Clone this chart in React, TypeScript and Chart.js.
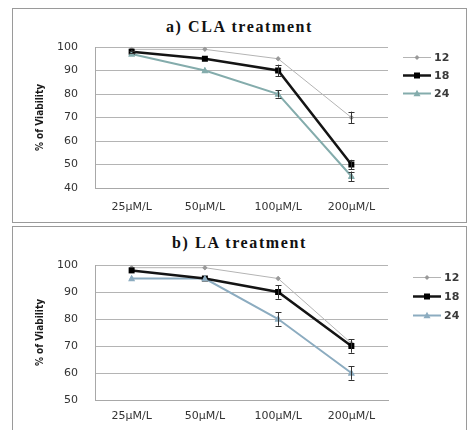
import React, { useEffect, useRef } from "react";
import { Chart, registerables } from "chart.js";

Chart.register(...registerables);

// ---------- data ----------
const categories = ["25µM/L", "50µM/L", "100µM/L", "200µM/L"];
const seriesNames = ["12", "18", "24"];

const claTitle = "a) CLA treatment";
const cla12 = [99, 99, 95, 70];
const cla18 = [98, 95, 90, 50];
const cla24 = [97, 90, 80, 45];
const claErr12 = [0, 0, 0, 2.5];
const claErr18 = [0.5, 0, 2.5, 2];
const claErr24 = [0, 0, 1.5, 2];
const claYMin = 40;
const claYMax = 100;

const laTitle = "b) LA treatment";
const la12 = [99, 99, 95, 71];
const la18 = [98, 95, 90, 70];
const la24 = [95, 95, 80, 60];
const laErr12 = [0, 0, 0, 0];
const laErr18 = [0, 0, 2.5, 2.5];
const laErr24 = [0, 0, 2.5, 2.5];
const laYMin = 50;
const laYMax = 100;

const yStep = 10;
const yTitle = "% of Viability";

// ---------- styles ----------
const c12 = "#b4b4b4";
const c18 = "#141414";
const c24top = "#84acac";
const c24bot = "#8cacc0";

function drawMarker(ctx: CanvasRenderingContext2D, style: string, x: number, y: number, r: number, color: string) {
  ctx.save();
  ctx.fillStyle = color;
  ctx.beginPath();
  if (style === "rect") {
    ctx.rect(x - r, y - r, 2 * r, 2 * r);
  } else if (style === "triangle") {
    ctx.moveTo(x, y - r * 1.1);
    ctx.lineTo(x + r, y + r * 0.8);
    ctx.lineTo(x - r, y + r * 0.8);
    ctx.closePath();
  } else {
    ctx.moveTo(x, y - r);
    ctx.lineTo(x + r, y);
    ctx.lineTo(x, y + r);
    ctx.lineTo(x - r, y);
    ctx.closePath();
  }
  ctx.fill();
  ctx.restore();
}

const errorBarPlugin = {
  id: "errorBars",
  afterDatasetsDraw(chart: any) {
    const ctx = chart.ctx;
    const yScale = chart.scales.y;
    chart.data.datasets.forEach((ds: any, i: number) => {
      const meta = chart.getDatasetMeta(i);
      (ds.errors || []).forEach((e: number, j: number) => {
        if (!e) return;
        const pt = meta.data[j];
        const v = ds.data[j];
        const yt = yScale.getPixelForValue(v + e);
        const yb = yScale.getPixelForValue(v - e);
        const x = Math.round(pt.x) + 0.5;
        ctx.save();
        ctx.strokeStyle = "#333333";
        ctx.lineWidth = 1;
        ctx.beginPath();
        ctx.moveTo(x, yt);
        ctx.lineTo(x, yb);
        ctx.moveTo(x - 3, Math.round(yt) + 0.5);
        ctx.lineTo(x + 3, Math.round(yt) + 0.5);
        ctx.moveTo(x - 3, Math.round(yb) + 0.5);
        ctx.lineTo(x + 3, Math.round(yb) + 0.5);
        ctx.stroke();
        ctx.restore();
      });
    });
  },
};

const lineLegendPlugin = {
  id: "lineLegend",
  afterDraw(chart: any, _args: any, opts: any) {
    const ctx = chart.ctx;
    const area = chart.chartArea;
    chart.data.datasets.forEach((ds: any, i: number) => {
      const x0 = area.right + opts.dx;
      const y = Math.round(area.top + opts.dy + i * opts.spacing) + 0.5;
      ctx.save();
      ctx.strokeStyle = ds.borderColor;
      ctx.lineWidth = ds.borderWidth;
      ctx.beginPath();
      ctx.moveTo(x0, y);
      ctx.lineTo(x0 + opts.len, y);
      ctx.stroke();
      drawMarker(ctx, ds.pointStyle, x0 + opts.len / 2, y, ds.pointRadius, ds.pointBackgroundColor);
      ctx.fillStyle = "#3a3a3a";
      ctx.font = "bold 11px 'DejaVu Sans', sans-serif";
      ctx.textBaseline = "middle";
      ctx.textAlign = "left";
      ctx.fillText(ds.label, x0 + opts.len + 3, y + 0.5);
      ctx.restore();
    });
  },
};

const customPointPlugin = {
  id: "customPoints",
  afterDatasetsDraw(chart: any) {
    const ctx = chart.ctx;
    chart.data.datasets.forEach((ds: any, i: number) => {
      const meta = chart.getDatasetMeta(i);
      meta.data.forEach((pt: any) => {
        drawMarker(ctx, ds.pointStyle, pt.x, pt.y, ds.pointRadius, ds.pointBackgroundColor);
      });
    });
  },
};

type PanelProps = {
  v12: number[];
  v18: number[];
  v24: number[];
  e12: number[];
  e18: number[];
  e24: number[];
  c24: string;
  yMin: number;
  yMax: number;
  width: number;
  height: number;
  xAxisH: number;
  xPad: number;
  legend: { dx: number; dy: number; spacing: number; len: number };
};

function Panel(p: PanelProps) {
  const ref = useRef<HTMLCanvasElement | null>(null);
  useEffect(() => {
    if (!ref.current) return;
    const mk = (label: string, data: number[], errors: number[], color: string, bw: number, style: string, r: number, pc: string) => ({
      label,
      data,
      errors,
      borderColor: color,
      borderWidth: bw,
      pointStyle: style,
      pointRadius: r,
      pointBackgroundColor: pc,
      pointBorderColor: pc,
      pointBorderWidth: 0,
      pointHoverRadius: 0,
      tension: 0,
      fill: false,
    });
    const chart = new Chart(ref.current, {
      type: "line",
      data: {
        labels: categories,
        datasets: [
          mk(seriesNames[0], p.v12, p.e12, c12, 1, "rectRot", 2.5, "#9a9a9a"),
          mk(seriesNames[1], p.v18, p.e18, c18, 2.5, "rect", 3, "#000000"),
          mk(seriesNames[2], p.v24, p.e24, p.c24, 2, "triangle", 3.5, p.c24),
        ] as any,
      },
      options: {
        animation: false,
        responsive: false,
        events: [],
        elements: { point: { radius: 0 } },
        layout: { padding: { top: 38, right: p.width - 82 - 293, bottom: 0, left: 0 } },
        plugins: {
          legend: { display: false },
          tooltip: { enabled: false },
          title: { display: false },
          lineLegend: p.legend,
        } as any,
        scales: {
          x: {
            offset: true,
            grid: { display: false, drawTicks: false },
            border: { display: true, color: "#a8a8a8", width: 1 },
            ticks: {
              padding: p.xPad,
              color: "#333333",
              font: { family: "'DejaVu Sans', sans-serif", size: 11 },
              maxRotation: 0,
            },
            afterFit: (s: any) => {
              s.height = p.xAxisH;
            },
          },
          y: {
            min: p.yMin,
            max: p.yMax,
            ticks: {
              stepSize: yStep,
              padding: 17,
              color: "#333333",
              font: { family: "'DejaVu Sans', sans-serif", size: 11 },
            },
            grid: { color: "#b4b4b4", lineWidth: 1, drawTicks: false },
            border: { display: true, color: "#a8a8a8", width: 1 },
            title: {
              display: true,
              text: yTitle,
              color: "#1a1a1a",
              padding: { top: 21, bottom: 0 },
              font: { family: "'DejaVu Sans Condensed', 'Liberation Sans Narrow', sans-serif", size: 10, weight: "bold" },
            },
            afterFit: (s: any) => {
              s.width = 82;
            },
          },
        } as any,
      },
      plugins: [customPointPlugin, errorBarPlugin, lineLegendPlugin],
    });
    return () => chart.destroy();
  }, []);
  return <canvas ref={ref} width={p.width} height={p.height} style={{ display: "block" }} />;
}

const titleStyle: React.CSSProperties = {
  position: "absolute",
  left: 0,
  width: "100%",
  textAlign: "center",
  fontFamily: "'Liberation Serif', 'Times New Roman', serif",
  fontWeight: "bold",
  fontSize: 16,
  lineHeight: "18px",
  letterSpacing: "1.6px",
  color: "#111111",
  whiteSpace: "nowrap",
};

export default function App() {
  return (
    <div
      style={{
        position: "absolute",
        left: 0,
        top: 0,
        width: 469,
        height: 430,
        overflow: "hidden",
        background: "#ffffff",
      }}
    >
      <div
        style={{
          position: "absolute",
          left: 12,
          top: 8,
          width: 453,
          height: 213,
          border: "1px solid #9a9a9a",
        }}
      >
        <div style={{ ...titleStyle, top: 9 }}>{claTitle}</div>
        <div style={{ position: "absolute", left: 0, top: 0 }}>
          <Panel
            v12={cla12}
            v18={cla18}
            v24={cla24}
            e12={claErr12}
            e18={claErr18}
            e24={claErr24}
            c24={c24top}
            yMin={claYMin}
            yMax={claYMax}
            width={453}
            height={213}
            xAxisH={34}
            xPad={13}
            legend={{ dx: 15, dy: 10, spacing: 18, len: 28 }}
          />
        </div>
      </div>
      <div
        style={{
          position: "absolute",
          left: 12,
          top: 226,
          width: 453,
          height: 220,
          border: "1px solid #9a9a9a",
        }}
      >
        <div style={{ ...titleStyle, top: 7 }}>{laTitle}</div>
        <div style={{ position: "absolute", left: 0, top: 0 }}>
          <Panel
            v12={la12}
            v18={la18}
            v24={la24}
            e12={laErr12}
            e18={laErr18}
            e24={laErr24}
            c24={c24bot}
            yMin={laYMin}
            yMax={laYMax}
            width={453}
            height={203}
            xAxisH={30}
            xPad={10}
            legend={{ dx: 25, dy: 12, spacing: 19, len: 28 }}
          />
        </div>
      </div>
    </div>
  );
}
